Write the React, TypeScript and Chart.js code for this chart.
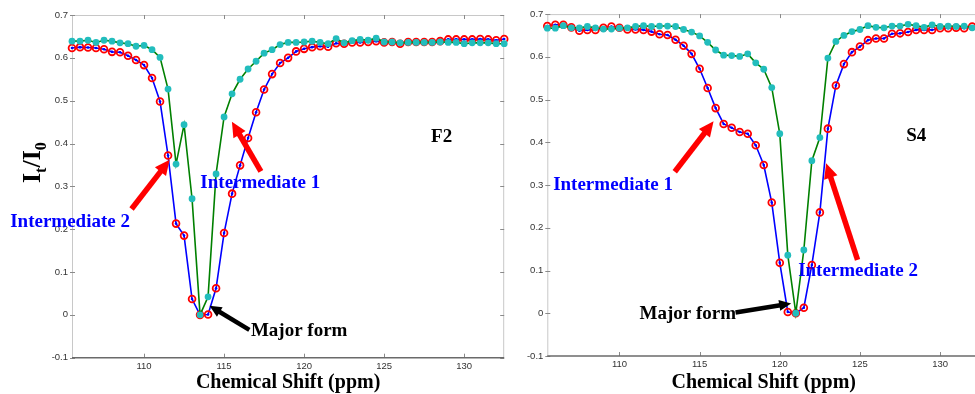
import React, { useEffect, useRef } from "react";
import { Chart, registerables } from "chart.js";

Chart.register(...registerables);

// Chemical shift grid (ppm), shared by both samples
const SHIFT_PPM = [
  105.5, 106, 106.5, 107, 107.5, 108, 108.5, 109, 109.5, 110,
  110.5, 111, 111.5, 112, 112.5, 113, 113.5, 114, 114.5, 115,
  115.5, 116, 116.5, 117, 117.5, 118, 118.5, 119, 119.5, 120,
  120.5, 121, 121.5, 122, 122.5, 123, 123.5, 124, 124.5, 125,
  125.5, 126, 126.5, 127, 127.5, 128, 128.5, 129, 129.5, 130,
  130.5, 131, 131.5, 132, 132.5,
];

// F2: red-circle / blue-line profile
const F2_BLUE = [
  0.623, 0.625, 0.624, 0.623, 0.620, 0.614, 0.613, 0.605, 0.595, 0.583,
  0.553, 0.498, 0.372, 0.213, 0.185, 0.037, 0.000, 0.001, 0.062, 0.191,
  0.283, 0.349, 0.413, 0.473, 0.526, 0.562, 0.588, 0.600, 0.615, 0.621,
  0.625, 0.627, 0.626, 0.634, 0.633, 0.636, 0.636, 0.637, 0.639, 0.636,
  0.637, 0.633, 0.637, 0.637, 0.637, 0.637, 0.639, 0.643, 0.643, 0.643,
  0.643, 0.644, 0.643, 0.641, 0.644,
];

// F2: cyan-dot / green-line profile
const F2_GREEN = [
  0.639, 0.639, 0.641, 0.636, 0.641, 0.639, 0.635, 0.633, 0.627, 0.629,
  0.619, 0.601, 0.527, 0.352, 0.444, 0.271, 0.000, 0.042, 0.329, 0.462,
  0.516, 0.550, 0.574, 0.592, 0.611, 0.619, 0.631, 0.636, 0.636, 0.637,
  0.639, 0.636, 0.633, 0.645, 0.635, 0.640, 0.643, 0.641, 0.646, 0.637,
  0.637, 0.635, 0.636, 0.636, 0.636, 0.636, 0.637, 0.636, 0.636, 0.633,
  0.635, 0.635, 0.635, 0.633, 0.633,
];

// S4: red-circle / blue-line profile
const S4_BLUE = [
  0.672, 0.675, 0.675, 0.669, 0.661, 0.663, 0.663, 0.668, 0.671, 0.668,
  0.664, 0.664, 0.663, 0.659, 0.653, 0.651, 0.640, 0.626, 0.607, 0.572,
  0.527, 0.480, 0.443, 0.434, 0.424, 0.420, 0.393, 0.347, 0.259, 0.118,
  0.003, 0.000, 0.013, 0.113, 0.236, 0.432, 0.533, 0.583, 0.611, 0.624,
  0.639, 0.643, 0.643, 0.654, 0.655, 0.658, 0.663, 0.663, 0.663, 0.667,
  0.667, 0.668, 0.667, 0.671, 0.670,
];

// S4: cyan-dot / green-line profile
const S4_GREEN = [
  0.667, 0.667, 0.673, 0.668, 0.668, 0.671, 0.668, 0.665, 0.665, 0.667,
  0.668, 0.671, 0.673, 0.671, 0.672, 0.672, 0.671, 0.664, 0.658, 0.649,
  0.634, 0.616, 0.604, 0.603, 0.601, 0.607, 0.586, 0.571, 0.528, 0.420,
  0.136, 0.000, 0.148, 0.357, 0.411, 0.597, 0.636, 0.650, 0.659, 0.664,
  0.673, 0.669, 0.668, 0.672, 0.672, 0.676, 0.673, 0.669, 0.675, 0.671,
  0.672, 0.671, 0.672, 0.668, 0.669,
];

const X_TICKS = [110, 115, 120, 125, 130];
const Y_TICKS = [-0.1, 0, 0.1, 0.2, 0.3, 0.4, 0.5, 0.6, 0.7];
const X_RANGE = [105.5, 132.5];
const Y_RANGE = [-0.1, 0.7];

const X_TITLE = "Chemical Shift (ppm)";

// Callouts, placed in data units (ppm, I/I0)
const F2_NOTES = [
  { text: "Intermediate 1", x: 117.26, y: 0.308, tone: "blue" },
  { text: "Intermediate 2", x: 105.38, y: 0.217, tone: "blue" },
  { text: "Major form", x: 119.69, y: -0.037, tone: "black" },
  { text: "F2", x: 128.59, y: 0.416, tone: "black" },
];
const F2_ARROWS = [
  { from: [117.3, 0.335], to: [115.49, 0.451], tone: "red" },
  { from: [109.22, 0.247], to: [111.6, 0.362], tone: "red" },
  { from: [116.58, -0.035], to: [114.09, 0.021], tone: "black" },
];

const S4_NOTES = [
  { text: "Intermediate 1", x: 109.6, y: 0.301, tone: "blue" },
  { text: "Intermediate 2", x: 124.88, y: 0.098, tone: "blue" },
  { text: "Major form", x: 114.26, y: -0.003, tone: "black" },
  { text: "S4", x: 128.51, y: 0.415, tone: "black" },
];
const S4_ARROWS = [
  { from: [113.45, 0.331], to: [115.87, 0.449], tone: "red" },
  { from: [124.85, 0.125], to: [122.89, 0.351], tone: "red" },
  { from: [117.24, 0.002], to: [120.71, 0.023], tone: "black" },
];

const TONES: Record<string, string> = {
  blue: "#0000ff",
  black: "#000000",
  red: "#ff0000",
};

const SERIF = '"Liberation Serif", "Times New Roman", serif';
const SANS = '"Liberation Sans", Arial, sans-serif';

function drawArrow(ctx: CanvasRenderingContext2D, x1: number, y1: number, x2: number, y2: number, color: string, heavy: boolean) {
  const dx = x2 - x1;
  const dy = y2 - y1;
  const len = Math.hypot(dx, dy);
  const ux = dx / len;
  const uy = dy / len;
  const headLen = heavy ? 15 : 12;
  const headW = heavy ? 14 : 11;
  const shaft = heavy ? 5.5 : 4.5;
  const bx = x2 - ux * headLen;
  const by = y2 - uy * headLen;
  ctx.save();
  ctx.strokeStyle = color;
  ctx.fillStyle = color;
  ctx.lineWidth = shaft;
  ctx.lineCap = "butt";
  ctx.beginPath();
  ctx.moveTo(x1, y1);
  ctx.lineTo(bx + ux * 1, by + uy * 1);
  ctx.stroke();
  ctx.beginPath();
  ctx.moveTo(x2, y2);
  ctx.lineTo(bx - uy * headW / 2, by + ux * headW / 2);
  ctx.lineTo(bx + uy * headW / 2, by - ux * headW / 2);
  ctx.closePath();
  ctx.fill();
  ctx.restore();
}

function drawYTitle(ctx: CanvasRenderingContext2D, x: number, y: number) {
  ctx.save();
  ctx.translate(x, y);
  ctx.rotate(-Math.PI / 2);
  ctx.fillStyle = "#000";
  ctx.textAlign = "left";
  ctx.textBaseline = "alphabetic";
  const big = `bold 26px ${SERIF}`;
  const small = `bold 16px ${SERIF}`;
  const parts: [string, string, number][] = [
    ["I", big, 0],
    ["t", small, 6],
    ["/", big, 0],
    ["I", big, 0],
    ["0", small, 6],
  ];
  let cx = 0;
  for (const [t, f, dy] of parts) {
    ctx.font = f;
    ctx.fillText(t, cx, dy);
    cx += ctx.measureText(t).width;
  }
  ctx.restore();
}

const framePlugin = {
  id: "frame",
  beforeDatasetsDraw(chart: any) {
    const { ctx, chartArea: a } = chart;
    const xs = chart.scales.x;
    const ys = chart.scales.y;
    ctx.save();
    ctx.lineWidth = 1;
    ctx.strokeStyle = "#c8c8c8";
    ctx.beginPath();
    ctx.moveTo(a.left + 0.5, a.bottom);
    ctx.lineTo(a.left + 0.5, a.top + 0.5);
    ctx.lineTo(a.right - 0.5, a.top + 0.5);
    ctx.lineTo(a.right - 0.5, a.bottom);
    ctx.stroke();
    // inward tick marks
    ctx.strokeStyle = "#8a8a8a";
    ctx.beginPath();
    for (const v of X_TICKS) {
      const px = Math.round(xs.getPixelForValue(v)) + 0.5;
      ctx.moveTo(px, a.bottom);
      ctx.lineTo(px, a.bottom - 4);
      ctx.moveTo(px, a.top);
      ctx.lineTo(px, a.top + 4);
    }
    for (const v of Y_TICKS) {
      const py = Math.round(ys.getPixelForValue(v)) + 0.5;
      ctx.moveTo(a.left - 2, py);
      ctx.lineTo(a.left + 3, py);
      ctx.moveTo(a.right, py);
      ctx.lineTo(a.right - 4, py);
    }
    ctx.stroke();
    ctx.strokeStyle = "#6a6a6a";
    ctx.lineWidth = 1.5;
    ctx.beginPath();
    ctx.moveTo(a.left, a.bottom);
    ctx.lineTo(a.right, a.bottom);
    ctx.stroke();
    ctx.restore();
  },
  afterDraw(chart: any, _args: any, opts: any) {
    const { ctx, chartArea: a } = chart;
    const xs = chart.scales.x;
    const ys = chart.scales.y;
    ctx.save();
    // axis title
    ctx.fillStyle = "#000";
    ctx.font = `bold 20px ${SERIF}`;
    ctx.textAlign = "center";
    ctx.textBaseline = "middle";
    ctx.fillText(X_TITLE, (a.left + a.right) / 2, 383);
    if (opts.yTitle) drawYTitle(ctx, 40, 183);
    // arrows
    for (const ar of opts.arrows || []) {
      drawArrow(
        ctx,
        xs.getPixelForValue(ar.from[0]),
        ys.getPixelForValue(ar.from[1]),
        xs.getPixelForValue(ar.to[0]),
        ys.getPixelForValue(ar.to[1]),
        TONES[ar.tone],
        ar.tone === "red"
      );
    }
    // callout texts
    ctx.font = `bold 19px ${SERIF}`;
    ctx.textAlign = "center";
    ctx.textBaseline = "middle";
    for (const n of opts.notes || []) {
      ctx.fillStyle = TONES[n.tone];
      ctx.fillText(n.text, xs.getPixelForValue(n.x), ys.getPixelForValue(n.y));
    }
    ctx.restore();
  },
};

function makeChart(
  canvas: HTMLCanvasElement,
  blue: number[],
  green: number[],
  notes: any[],
  arrows: any[],
  box: { yWidth: number; top: number; right: number; xHeight: number; yTitle: boolean }
) {
  const pts = (ys: number[]) => SHIFT_PPM.map((x, i) => ({ x, y: ys[i] }));
  return new Chart(canvas, {
    type: "line",
    data: {
      datasets: [
        {
          label: "green",
          data: pts(green),
          borderColor: "#008000",
          borderWidth: 1.6,
          pointRadius: 3.4,
          pointBackgroundColor: "#22bdbd",
          pointBorderColor: "#22bdbd",
          pointBorderWidth: 0,
          tension: 0,
          order: 0,
          clip: false,
        },
        {
          label: "red",
          data: pts(blue),
          showLine: false,
          pointRadius: 3.4,
          pointBorderColor: "#ff0000",
          pointBorderWidth: 1.8,
          pointBackgroundColor: "rgba(0,0,0,0)",
          order: 1,
          clip: false,
        },
        {
          label: "blue",
          data: pts(blue),
          borderColor: "#0000ff",
          borderWidth: 1.6,
          pointRadius: 1.3,
          pointBackgroundColor: "#0000ff",
          pointBorderWidth: 0,
          tension: 0,
          order: 2,
          clip: false,
        },
      ],
    },
    options: {
      responsive: false,
      animation: false,
      devicePixelRatio: 1,
      events: [],
      layout: { padding: { left: 0, right: box.right, top: box.top, bottom: 0 } },
      plugins: {
        legend: { display: false },
        tooltip: { enabled: false },
        frame: { notes, arrows, yTitle: box.yTitle },
      } as any,
      scales: {
        x: {
          type: "linear",
          min: X_RANGE[0],
          max: X_RANGE[1],
          grid: { display: false, drawTicks: false },
          border: { display: false },
          ticks: {
            font: { family: SANS, size: 9.5 },
            color: "#333",
            padding: 3,
            maxRotation: 0,
            autoSkip: false,
            callback: (v: any) => String(v),
          },
          afterBuildTicks: (s: any) => {
            s.ticks = X_TICKS.map((value) => ({ value }));
          },
          afterFit: (s: any) => {
            s.height = box.xHeight;
          },
        },
        y: {
          type: "linear",
          min: Y_RANGE[0],
          max: Y_RANGE[1],
          grid: { display: false, drawTicks: false },
          border: { display: false },
          ticks: {
            font: { family: SANS, size: 9.5 },
            color: "#333",
            padding: 4,
            autoSkip: false,
            callback: (v: any) => String(Number(Number(v).toFixed(1))),
          },
          afterBuildTicks: (s: any) => {
            s.ticks = Y_TICKS.map((value) => ({ value }));
          },
          afterFit: (s: any) => {
            s.width = box.yWidth;
          },
        },
      },
    } as any,
    plugins: [framePlugin],
  });
}

export default function App() {
  const leftRef = useRef<HTMLCanvasElement>(null);
  const rightRef = useRef<HTMLCanvasElement>(null);

  useEffect(() => {
    const left = makeChart(leftRef.current!, F2_BLUE, F2_GREEN, F2_NOTES, F2_ARROWS, {
      yWidth: 72,
      top: 15,
      right: 4,
      xHeight: 36.3,
      yTitle: true,
    });
    const right = makeChart(rightRef.current!, S4_BLUE, S4_GREEN, S4_NOTES, S4_ARROWS, {
      yWidth: 37.3,
      top: 14.1,
      right: 4.7,
      xHeight: 38,
      yTitle: false,
    });
    return () => {
      left.destroy();
      right.destroy();
    };
  }, []);

  return (
    <div
      style={{
        position: "absolute",
        left: 0,
        top: 0,
        width: 975,
        height: 394,
        overflow: "hidden",
        background: "#fff",
      }}
    >
      <canvas ref={leftRef} width={510} height={394} style={{ position: "absolute", left: 0, top: 0 }} />
      <canvas ref={rightRef} width={476} height={394} style={{ position: "absolute", left: 510, top: 0 }} />
    </div>
  );
}
